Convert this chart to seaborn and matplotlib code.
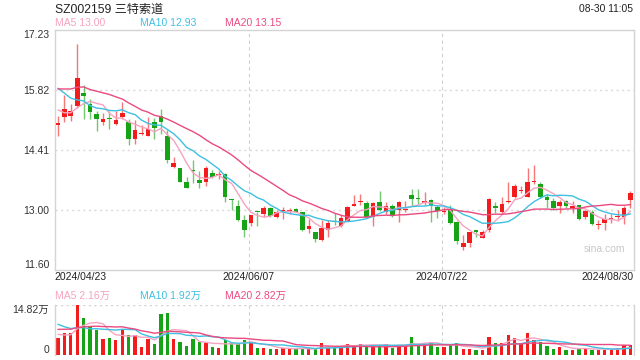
import numpy as np
import pandas as pd
import matplotlib
matplotlib.use('Agg')
import matplotlib.pyplot as plt
import matplotlib.transforms as mtransforms
import seaborn as sns

# daily bars 2024/04/23 - 2024/08/30 (90 sessions)
opens = [15.00, 15.17, 15.21, 15.44, 15.74, 15.48, 15.24, 15.07, 15.13, 15.02,
         15.17, 15.06, 14.67, 14.78, 14.74, 15.05, 15.21, 14.74, 14.01, 13.98,
         13.65, 13.92, 13.70, 13.66, 13.86, 13.81, 13.84, 13.23, 13.08, 12.75,
         12.69, 12.95, 12.91, 13.04, 12.82, 12.97, 12.98, 13.02, 12.94, 12.55,
         12.47, 12.29, 12.52, 12.73, 12.61, 12.74, 13.09, 13.18, 13.16, 12.82,
         13.18, 12.94, 13.08, 13.00, 12.99, 13.34, 13.27, 13.16, 13.23, 13.06,
         12.95, 13.00, 12.71, 12.12, 12.22, 12.53, 12.35, 12.53, 13.10, 12.94,
         13.18, 13.31, 13.44, 13.31, 13.65, 13.60, 13.30, 13.21, 13.10, 13.21,
         13.04, 13.12, 12.82, 12.96, 12.64, 12.69, 12.79, 12.82, 12.84, 13.23]
closes = [15.02, 15.36, 15.31, 16.09, 15.67, 15.29, 15.13, 15.13, 15.12, 15.10,
          15.27, 14.67, 14.87, 14.80, 14.89, 14.93, 15.05, 14.17, 14.09, 13.66,
          13.51, 13.91, 13.63, 13.98, 13.77, 13.83, 13.31, 13.22, 12.77, 12.53,
          12.87, 12.94, 13.04, 12.86, 12.95, 12.98, 12.99, 12.95, 12.53, 12.61,
          12.31, 12.57, 12.69, 12.72, 12.80, 13.06, 13.13, 13.20, 12.84, 13.16,
          13.00, 13.10, 12.87, 13.18, 13.00, 13.26, 13.25, 13.21, 13.08, 12.98,
          12.96, 12.69, 12.26, 12.23, 12.48, 12.47, 12.48, 13.26, 13.04, 13.13,
          13.20, 13.56, 13.45, 13.65, 13.67, 13.31, 13.23, 13.04, 13.18, 13.08,
          13.09, 12.79, 12.98, 12.67, 12.65, 12.79, 12.80, 12.83, 13.04, 13.40]
highs = [15.21, 15.70, 15.48, 16.89, 15.92, 15.60, 15.31, 15.26, 15.31, 15.31,
         15.54, 15.13, 15.11, 14.98, 15.17, 15.15, 15.36, 14.88, 14.23, 13.98,
         13.78, 14.16, 13.91, 14.02, 13.94, 13.90, 13.86, 13.26, 13.23, 12.88,
         12.88, 12.96, 13.09, 13.06, 13.00, 13.06, 13.04, 13.05, 12.96, 12.79,
         12.49, 12.75, 12.75, 12.92, 12.88, 13.08, 13.34, 13.37, 13.20, 13.18,
         13.43, 13.18, 13.14, 13.20, 13.21, 13.49, 13.48, 13.41, 13.26, 13.12,
         13.06, 13.12, 12.74, 12.40, 12.49, 12.53, 12.53, 13.27, 13.18, 13.29,
         13.66, 13.60, 13.55, 13.98, 14.06, 13.65, 13.37, 13.27, 13.23, 13.23,
         13.20, 13.12, 13.00, 13.00, 12.77, 12.90, 12.90, 13.00, 13.08, 13.45]
lows = [14.72, 15.06, 15.09, 15.39, 15.13, 15.13, 14.86, 14.98, 14.90, 15.00,
        15.13, 14.52, 14.55, 14.76, 14.72, 14.67, 14.78, 14.09, 13.99, 13.65,
        13.51, 13.64, 13.52, 13.57, 13.74, 13.73, 13.18, 12.99, 12.74, 12.37,
        12.61, 12.62, 12.84, 12.84, 12.80, 12.78, 12.91, 12.94, 12.51, 12.45,
        12.25, 12.27, 12.36, 12.65, 12.59, 12.73, 13.08, 13.12, 12.84, 12.61,
        12.98, 12.90, 12.82, 12.71, 12.94, 13.10, 13.13, 13.12, 12.71, 12.80,
        12.90, 12.66, 12.19, 12.06, 12.12, 12.37, 12.34, 12.49, 12.92, 12.90,
        13.16, 13.27, 13.39, 13.29, 13.60, 13.27, 13.04, 13.00, 12.92, 13.04,
        12.92, 12.77, 12.79, 12.65, 12.55, 12.53, 12.69, 12.73, 12.66, 13.04]
# volume in 万
volumes = [5.0, 6.3, 6.5, 14.82, 10.9, 8.2, 7.3, 4.7, 4.9, 4.4,
           7.3, 5.8, 5.9, 2.3, 4.7, 3.2, 12.2, 12.4, 4.7, 3.8,
           2.6, 4.7, 3.7, 3.6, 2.4, 2.1, 4.3, 3.6, 3.3, 4.3,
           3.6, 2.1, 2.1, 1.8, 1.8, 2.0, 1.6, 1.6, 2.1, 1.6,
           1.6, 3.6, 2.1, 2.4, 2.4, 3.3, 2.8, 3.3, 2.5, 2.8,
           2.8, 3.3, 2.1, 2.8, 2.8, 5.2, 2.8, 3.3, 3.8, 2.4,
           2.2, 2.8, 3.5, 1.6, 1.8, 1.5, 1.3, 5.3, 3.5, 3.5,
           5.8, 5.0, 3.3, 6.4, 4.3, 3.8, 2.6, 1.8, 2.2, 1.5,
           1.5, 2.0, 2.0, 1.5, 1.5, 1.5, 1.5, 2.0, 2.8, 2.8]

# sessions before the window, only so the moving averages start where the chart starts
prior_closes = [15.4, 15.3, 15.3, 15.5, 16.5, 15.9, 15.9, 15.9, 16.2, 16.3,
                16.5, 16.5, 16.5, 15.9, 16.4, 15.7, 15.3, 15.5, 15.2]
prior_volumes = [5.5, 6.2, 5.8, 6.5, 5.2, 6.0, 6.8, 5.6, 6.1, 6.3,
                 13.5, 11.8, 12.4, 10.9, 11.4, 7.2, 6.1, 5.9, 5.9]

# values printed in the chart headers
ma_last = [13.00, 12.93, 13.15]
vma_last = [2.16, 1.92, 2.82]

date_index = [0, 30, 60, 89]
date_labels = ['2024/04/23', '2024/06/07', '2024/07/22', '2024/08/30']
price_ticks = [11.60, 13.00, 14.41, 15.82, 17.23]
vol_top = 14.82

ma_windows = [5, 10, 20]
ma_colors = ['#f5a3c1', '#3ec0e2', '#ea4a80']
up_color, down_color = '#f21c1c', '#16a316'

df = pd.DataFrame({'o': opens, 'h': highs, 'l': lows, 'c': closes, 'v': volumes})
df['i'] = np.arange(len(df))
all_c = pd.Series(prior_closes + closes)
all_v = pd.Series(prior_volumes + volumes)
k = len(prior_closes)
for n in ma_windows:
    df[f'ma{n}'] = all_c.rolling(n).mean().iloc[k:].values
    df[f'vma{n}'] = all_v.rolling(n).mean().iloc[k:].values

sns.set_theme(style='white')
plt.rcParams['font.family'] = ['Liberation Sans', 'Noto Sans CJK SC', 'DejaVu Sans']

fig = plt.figure(figsize=(6.4, 3.6), dpi=100)
W, H = 640, 360


def fx(px):
    return px / W


def fy(py):
    return 1 - py / H


ax = fig.add_axes([fx(54.7), fy(269.5), fx(633.7 - 54.7), (269.5 - 29.5) / H])
axv = fig.add_axes([fx(54.7), fy(354.7), fx(633.7 - 54.7), (354.7 - 304.7) / H])

up = df['c'] >= df['o']
colors = np.where(up, up_color, down_color)

# candles
ax.vlines(df['i'], df['l'], df['h'], colors=colors, lw=1, alpha=0.6, zorder=2)
body = np.maximum((df['c'] - df['o']).abs(), 0.025)
ax.bar(df['i'], body, bottom=np.minimum(df['o'], df['c']), width=0.72,
       color=colors, linewidth=0, zorder=3)
for n, col in zip(ma_windows, ma_colors):
    sns.lineplot(data=df, x='i', y=f'ma{n}', ax=ax, color=col, lw=1, zorder=4)

ax.set_xlim(-0.5, len(df) - 0.5)
ax.set_ylim(price_ticks[0], price_ticks[-1])
ax.set_yticks(price_ticks)
ax.set_yticklabels([f'{t:.2f}' for t in price_ticks])
ax.set_xticks([])
ax.set_xlabel('')
ax.set_ylabel('')
for t in price_ticks[1:-1]:
    ax.axhline(t, color='#d9d9d9', lw=1, ls=(0, (1.5, 2.5)), zorder=1)
ax.tick_params(axis='y', length=0, pad=4, labelsize=7.5, labelcolor='#333333')
labs = ax.get_yticklabels()
labs[0].set_va('bottom')
labs[-1].set_va('top')
for s in ax.spines.values():
    s.set_color('#d4d4d4')
    s.set_linewidth(1)

trans = mtransforms.blended_transform_factory(ax.transData, ax.transAxes)
for j, (idx, lab) in enumerate(zip(date_index, date_labels)):
    if j == 0:
        ax.text(-0.5, -0.033, lab, transform=trans, ha='left', va='center', fontsize=7.5, color='#222222')
    elif j == len(date_index) - 1:
        ax.text(len(df) - 0.5, -0.033, lab, transform=trans, ha='right', va='center', fontsize=7.5, color='#222222')
    else:
        ax.axvline(idx - 0.35, color='#d0d0d0', lw=0.8, ls=(0, (3, 3)), zorder=1)
        axv.axvline(idx - 0.35, color='#d0d0d0', lw=0.8, ls=(0, (3, 3)), zorder=1)
        ax.text(idx - 0.35, -0.033, lab, transform=trans, ha='center', va='center', fontsize=7.5, color='#222222')

ax.text(0.985, 0.085, 'sina.com', transform=ax.transAxes, ha='right', va='center',
        fontsize=7.5, color='#c8c8c8')

# volume
axv.bar(df['i'], df['v'], width=0.52, color=colors, linewidth=0, zorder=2)
for n, col in zip(ma_windows, ma_colors):
    sns.lineplot(data=df, x='i', y=f'vma{n}', ax=axv, color=col, lw=1, zorder=3)
axv.set_xlim(-0.5, len(df) - 0.5)
axv.set_ylim(0, vol_top)
axv.set_yticks([0, vol_top])
axv.set_yticklabels(['0', f'{vol_top:.2f}万'])
axv.set_xticks([])
axv.set_xlabel('')
axv.set_ylabel('')
axv.tick_params(axis='y', length=0, pad=4, labelsize=7.5, labelcolor='#333333')
vl = axv.get_yticklabels()
vl[0].set_va('bottom')
vl[1].set_va('top')
axv.spines['top'].set_visible(False)
axv.spines['bottom'].set_visible(False)
for s in ('left', 'right'):
    axv.spines[s].set_color('#d4d4d4')
    axv.spines[s].set_linewidth(1)
axv.axhline(vol_top, color='#d0d0d0', lw=1, ls=(0, (1.5, 2.5)), zorder=1)

# header texts
fig.text(fx(55), fy(12.5), 'SZ002159 三特索道', fontsize=8.7, color='#222222', va='baseline')
fig.text(fx(633), fy(12.5), '08-30 11:05', fontsize=7.4, color='#222222', ha='right', va='baseline')
for n, col, px, m, vm in zip(ma_windows, ma_colors, [55, 140, 225], ma_last, vma_last):
    fig.text(fx(px), fy(23.5), f'MA{n} {m:.2f}', fontsize=7.5, color=col, va='center')
    fig.text(fx(px), fy(295.5), f'MA{n} {vm:.2f}万', fontsize=7.5, color=col, va='center')

fig.savefig('out.png', dpi=100)
